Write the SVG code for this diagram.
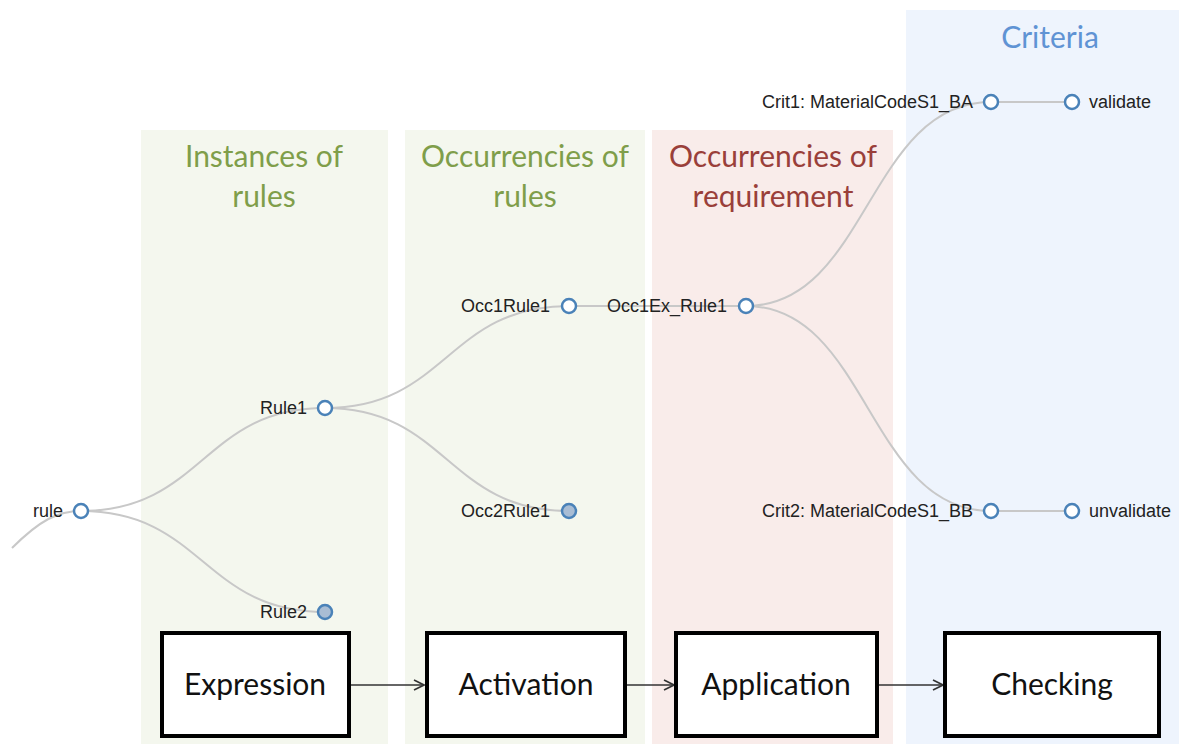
<svg xmlns="http://www.w3.org/2000/svg" width="1179" height="744" viewBox="0 0 1179 744">
<style>
.panel-g{fill:#f4f7ee}
.panel-r{fill:#f9ecea}
.panel-b{fill:#eef4fd}
.title{font-family:Lato,"Liberation Sans",sans-serif;font-size:30px;text-anchor:middle}
.tg{fill:#7f9e4a}
.tr{fill:#9a3f3a}
.tb{fill:#5f93d4}
.link{fill:none;stroke:#c8c8c8;stroke-width:2}
.node circle{fill:#fff;stroke:#4a82b8;stroke-width:2.5}
.node circle.collapsed{fill:#a9bdd4}
.node text{font-family:"Liberation Sans",Arial,sans-serif;font-size:18px;fill:#222}
.box rect{fill:#fff;stroke:#000;stroke-width:4}
.box text{font-family:Lato,"Liberation Sans",sans-serif;font-size:30px;fill:#111;text-anchor:middle}
.flow{fill:none;stroke:#333;stroke-width:1.6}
</style>
<defs>
<marker id="arr" viewBox="0 0 12 12" refX="11" refY="6" markerWidth="12" markerHeight="12" markerUnits="userSpaceOnUse" orient="auto">
<path d="M1,1 L11,6 L1,11" fill="none" stroke="#333" stroke-width="1.6"/>
</marker>
</defs>
<rect width="1179" height="744" fill="#fff"/>
<g id="panels">
<rect class="panel-g" x="141" y="130" width="247" height="614"/>
<rect class="panel-g" x="405" y="130" width="240" height="614"/>
<rect class="panel-r" x="652" y="130" width="241" height="614"/>
<rect class="panel-b" x="906" y="10" width="273" height="734"/>
<text class="title tg" x="264" y="167">Instances of</text>
<text class="title tg" x="264" y="207">rules</text>
<text class="title tg" x="525" y="167">Occurrencies of</text>
<text class="title tg" x="525" y="207">rules</text>
<text class="title tr" x="773" y="167">Occurrencies of</text>
<text class="title tr" x="773" y="207">requirement</text>
<text class="title tb" x="1050" y="48">Criteria</text>
</g>
<g id="connectors">
<path class="link" d="M12,548 C40,520 58,511 81,511"/>
<path class="link" d="M81,511 C203,511 203,408 325,408"/>
<path class="link" d="M81,511 C203,511 203,612 325,612"/>
<path class="link" d="M325,408 C447,408 447,306 569,306"/>
<path class="link" d="M325,408 C447,408 447,511 569,511"/>
<path class="link" d="M569,306 L746,306"/>
<path class="link" d="M746,306 C868,306 868,102 991,102"/>
<path class="link" d="M746,306 C868,306 868,511 991,511"/>
<path class="link" d="M991,102 L1072,102"/>
<path class="link" d="M991,511 L1072,511"/>
<path class="flow" d="M349,685 L424,685" marker-end="url(#arr)"/>
<path class="flow" d="M625,685 L674,685" marker-end="url(#arr)"/>
<path class="flow" d="M877,685 L943,685" marker-end="url(#arr)"/>
</g>
<g id="n-rule" class="node"><circle cx="81" cy="511" r="7"/><text x="63" y="517" text-anchor="end">rule</text></g>
<g id="n-rule1" class="node"><circle cx="325" cy="408" r="7"/><text x="307" y="414" text-anchor="end">Rule1</text></g>
<g id="n-rule2" class="node"><circle class="collapsed" cx="325" cy="612" r="7"/><text x="307" y="618" text-anchor="end">Rule2</text></g>
<g id="n-occ1rule1" class="node"><circle cx="569" cy="306" r="7"/><text x="550" y="312" text-anchor="end">Occ1Rule1</text></g>
<g id="n-occ2rule1" class="node"><circle class="collapsed" cx="569" cy="511" r="7"/><text x="550" y="517" text-anchor="end">Occ2Rule1</text></g>
<g id="n-occ1ex" class="node"><circle cx="746" cy="306" r="7"/><text x="727" y="312" text-anchor="end">Occ1Ex_Rule1</text></g>
<g id="n-crit1" class="node"><circle cx="991" cy="102" r="7"/><text x="973" y="108" text-anchor="end">Crit1: MaterialCodeS1_BA</text></g>
<g id="n-validate" class="node"><circle cx="1072" cy="102" r="7"/><text x="1089" y="108">validate</text></g>
<g id="n-crit2" class="node"><circle cx="991" cy="511" r="7"/><text x="973" y="517" text-anchor="end">Crit2: MaterialCodeS1_BB</text></g>
<g id="n-unvalidate" class="node"><circle cx="1072" cy="511" r="7"/><text x="1089" y="517">unvalidate</text></g>
<g id="b-expression" class="box"><rect x="162" y="633" width="187" height="103"/><text x="255" y="695">Expression</text></g>
<g id="b-activation" class="box"><rect x="427" y="633" width="198" height="103"/><text x="526" y="695">Activation</text></g>
<g id="b-application" class="box"><rect x="676" y="633" width="201" height="103"/><text x="776" y="695">Application</text></g>
<g id="b-checking" class="box"><rect x="945" y="633" width="214" height="103"/><text x="1052" y="695">Checking</text></g>
</svg>
